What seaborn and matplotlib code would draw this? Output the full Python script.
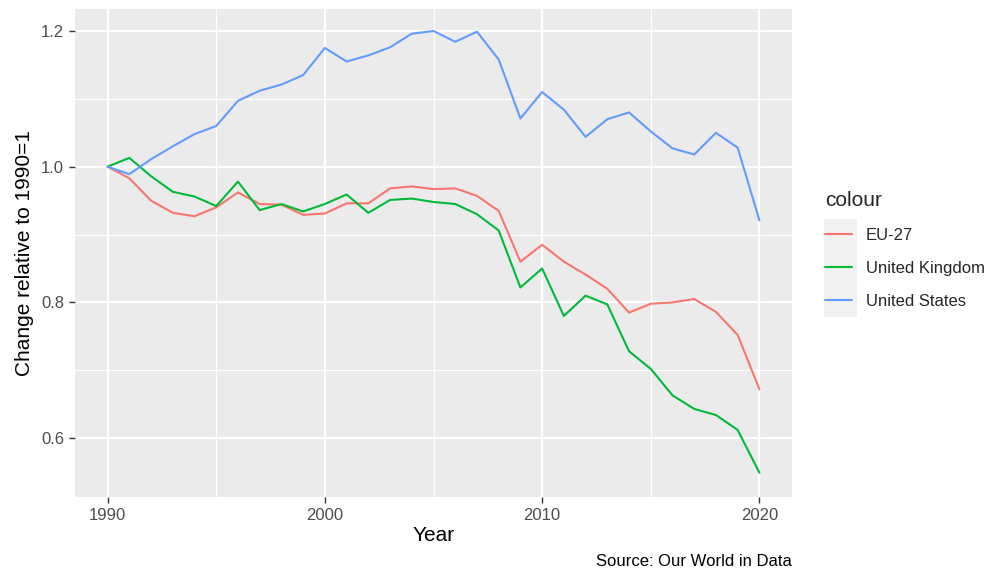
import matplotlib
matplotlib.use("Agg")
import matplotlib.pyplot as plt
from matplotlib.patches import Rectangle
import seaborn as sns
import pandas as pd

years = list(range(1990, 2021))
eu27 = [1.000, 0.983, 0.950, 0.932, 0.927, 0.940, 0.962, 0.945, 0.944, 0.929,
        0.931, 0.946, 0.946, 0.968, 0.971, 0.967, 0.968, 0.957, 0.935, 0.860,
        0.885, 0.860, 0.841, 0.820, 0.785, 0.798, 0.800, 0.805, 0.786, 0.752,
        0.672]
uk = [1.000, 1.013, 0.986, 0.963, 0.956, 0.942, 0.978, 0.936, 0.945, 0.934,
      0.945, 0.959, 0.932, 0.951, 0.953, 0.948, 0.945, 0.930, 0.906, 0.822,
      0.850, 0.780, 0.810, 0.797, 0.728, 0.702, 0.663, 0.643, 0.634, 0.612,
      0.549]
us = [1.000, 0.989, 1.011, 1.030, 1.048, 1.060, 1.097, 1.112, 1.121, 1.135,
      1.175, 1.155, 1.164, 1.176, 1.196, 1.200, 1.184, 1.199, 1.158, 1.071,
      1.110, 1.084, 1.044, 1.070, 1.080, 1.052, 1.027, 1.018, 1.050, 1.028,
      0.921]
series_names = ["EU-27", "United Kingdom", "United States"]
series_colors = ["#F8766D", "#00BA38", "#619CFF"]
x_ticks = [1990, 2000, 2010, 2020]
y_ticks = [0.6, 0.8, 1.0, 1.2]

df = pd.DataFrame({
    "Year": years * 3,
    "value": eu27 + uk + us,
    "colour": [series_names[0]] * len(years) + [series_names[1]] * len(years)
              + [series_names[2]] * len(years),
})

sns.set_theme(style="darkgrid")
plt.rcParams["font.family"] = ["Liberation Sans", "DejaVu Sans"]

W, H = 1000, 578
fig = plt.figure(figsize=(W / 100, H / 100), dpi=100)
fig.patch.set_facecolor("white")
left, right, top, bottom = 75, 792, 9, 497
ax = fig.add_axes([left / W, 1 - bottom / H, (right - left) / W, (bottom - top) / H])
ax.set_facecolor("#EBEBEB")

sns.lineplot(data=df, x="Year", y="value", hue="colour",
             palette=dict(zip(series_names, series_colors)),
             linewidth=1.5, ax=ax, legend=True)

ax.set_xlim(1988.5, 2021.5)
ax.set_ylim(0.5132, 1.2324)
ax.set_xticks(x_ticks)
ax.set_xticklabels([str(t) for t in x_ticks])
ax.set_yticks(y_ticks)
ax.set_yticklabels([f"{t:.1f}" for t in y_ticks])
ax.set_xticks([1995, 2005, 2015], minor=True)
ax.set_yticks([0.7, 0.9, 1.1], minor=True)
ax.grid(which="major", color="white", linewidth=1.6)
ax.grid(which="minor", color="white", linewidth=0.8)
ax.set_axisbelow(True)
for s in ax.spines.values():
    s.set_visible(False)
ax.tick_params(which="major", length=4.5, width=1, color="#333333",
               labelsize=12, labelcolor="#4D4D4D", pad=3.5,
               bottom=True, left=True)
ax.tick_params(which="minor", length=0)

ax.set_xlabel("Year", fontsize=15, color="black")
ax.set_ylabel("Change relative to 1990=1", fontsize=15, color="black")
ax.xaxis.set_label_coords(0.5, (bottom - 535.5) / (bottom - top))
ax.yaxis.set_label_coords((25 - left) / (right - left), 0.5)
ax.xaxis.label.set_va("center")
ax.yaxis.label.set_va("center")

# legend
handles, labels = ax.get_legend_handles_labels()
ax.get_legend().remove()
fig.patches.append(Rectangle((824 / W, 1 - 317 / H), 33 / W, 98 / H,
                             transform=fig.transFigure, facecolor="#F2F2F2",
                             edgecolor="none", zorder=0))
leg = fig.legend(handles, labels, title="colour", loc="upper left",
                 bbox_to_anchor=(825 / W, 1 - 191 / H), frameon=False,
                 fontsize=12, title_fontsize=15, handlelength=1.6,
                 handletextpad=0.85, labelspacing=1.08, borderpad=0,
                 borderaxespad=0, alignment="left")
for line in leg.get_lines():
    line.set_linewidth(1.5)

fig.text(right / W, 1 - 562 / H, "Source: Our World in Data", ha="right",
         va="center", fontsize=12, color="black")

fig.savefig("out.png", dpi=100, facecolor="white")
